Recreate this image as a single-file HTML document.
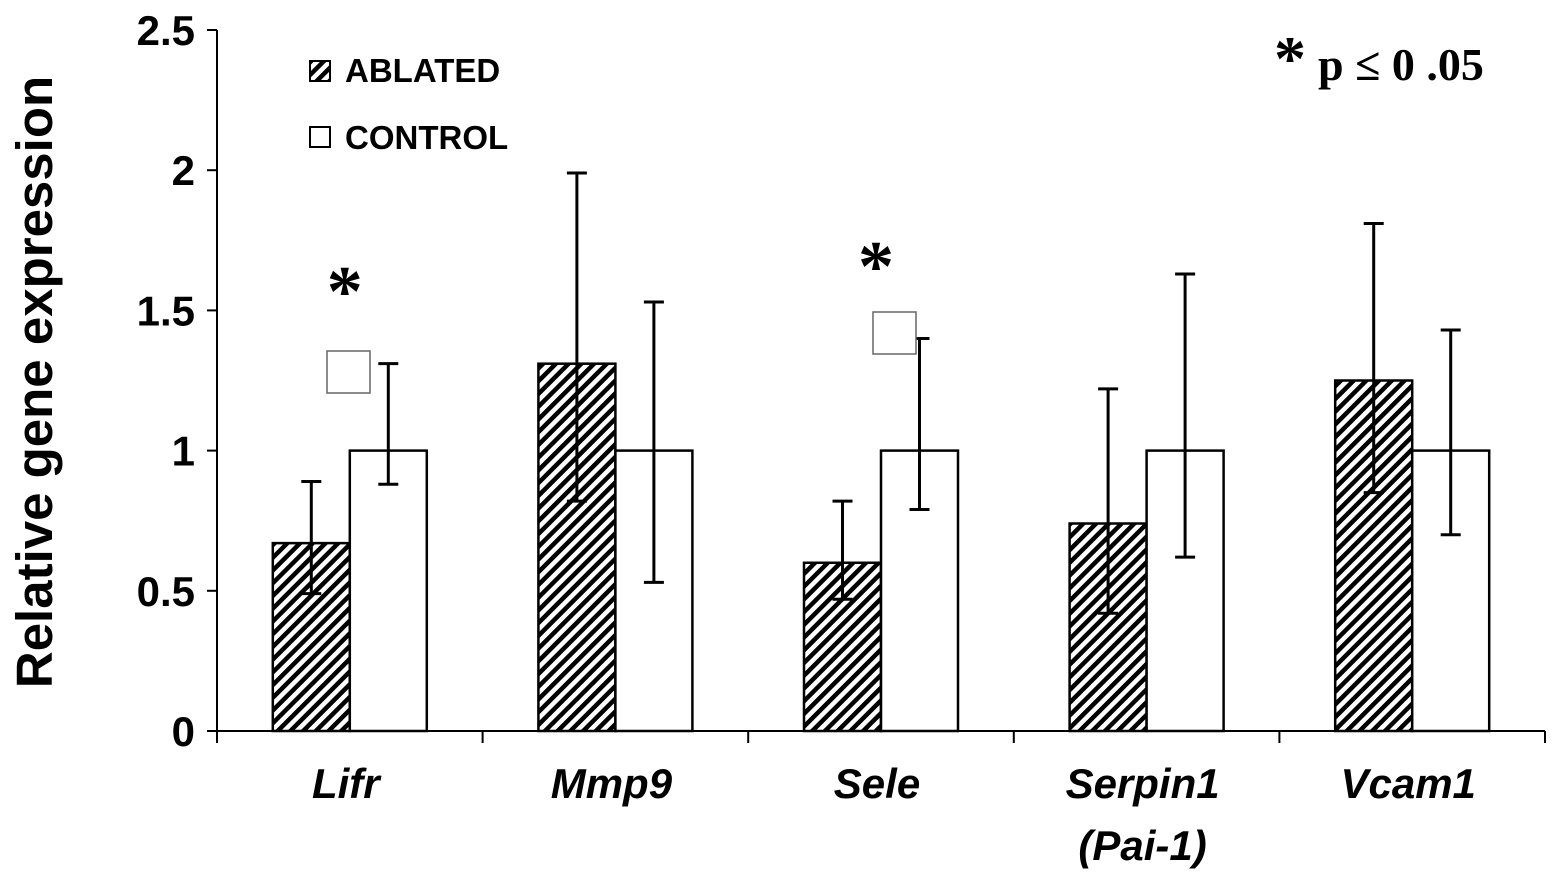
<!DOCTYPE html>
<html><head><meta charset="utf-8"><style>
body{margin:0;background:#fff}
svg{display:block}
text{font-family:"Liberation Sans",Arial,sans-serif;font-weight:bold;fill:#000}
</style></head><body>
<svg id="chart" width="1559" height="883" viewBox="0 0 1559 883">
<defs>
<pattern id="hatch" patternUnits="userSpaceOnUse" width="9" height="9" patternTransform="rotate(45)">
<rect width="9" height="9" fill="#fff"/><rect width="4.5" height="9" fill="#000"/>
</pattern>
</defs>
<g id="axes"></g>
<g id="bars"></g>
<text transform="translate(52,382) rotate(-90)" text-anchor="middle" font-size="51">Relative gene expression</text>
<g>
<rect x="310" y="61" width="20" height="20" fill="url(#hatch)" stroke="#000" stroke-width="2"/>
<text x="345" y="82" font-size="33">ABLATED</text>
<rect x="310" y="127" width="20" height="20" fill="#fff" stroke="#000" stroke-width="2"/>
<text x="345" y="149" font-size="33">CONTROL</text>
</g>
<text x="1274" y="80" font-size="64" style="font-family:'Liberation Serif',serif">*<tspan dx="12" font-size="46">p ≤ 0 .05</tspan></text>
<rect x="327" y="351" width="43" height="42" fill="#fff" stroke="#666" stroke-width="1.5"/>
<rect x="873" y="312" width="43" height="42" fill="#fff" stroke="#666" stroke-width="1.5"/>
</svg>
<script>
const categories=["Lifr","Mmp9","Sele","Serpin1","Vcam1"];
const subLabels=["","","","(Pai-1)",""];
const ablated=[0.67,1.31,0.60,0.74,1.25];
const ablatedHi=[0.89,1.99,0.82,1.22,1.81];
const ablatedLo=[0.49,0.82,0.47,0.42,0.85];
const control=[1.0,1.0,1.0,1.0,1.0];
const controlHi=[1.31,1.53,1.40,1.63,1.43];
const controlLo=[0.88,0.53,0.79,0.62,0.70];
const significant=[true,false,true,false,false];
const yTicks=[0,0.5,1,1.5,2,2.5];
const yTickLabels=["0","0.5","1","1.5","2","2.5"];

const NS="http://www.w3.org/2000/svg";
const x0=217,x1=1545,y0=731,yTop=30,yMax=2.5;
const y=v=>y0-(v/yMax)*(y0-yTop);
const bandW=(x1-x0)/categories.length;
const xc=i=>x0+bandW*(i+0.5);
const bw=77;
function mk(tag,attrs,parent){const e=document.createElementNS(NS,tag);for(const k in attrs)e.setAttribute(k,attrs[k]);parent.appendChild(e);return e;}
const axes=document.getElementById('axes'),bars=document.getElementById('bars');
let a=mk('line',{x1:x0,y1:yTop,x2:x0,y2:y0+1,stroke:'#000','stroke-width':2},axes);


a=mk('line',{x1:x0,y1:y0,x2:x1,y2:y0,stroke:'#000','stroke-width':2},axes);


yTicks.forEach((t,i)=>{
 const l=mk('line',{x1:x0-10,y1:y(t),x2:x0,y2:y(t),stroke:'#000','stroke-width':2},axes);
 
 
 const tx=mk('text',{x:x0-22,y:y(t)+15,'text-anchor':'end','font-size':42},axes);
 tx.textContent=yTickLabels[i];
 
 
});
for(let i=0;i<=categories.length;i++){
 const l=mk('line',{x1:x0+bandW*i,y1:y0,x2:x0+bandW*i,y2:y0+12,stroke:'#000','stroke-width':2},axes);
 
 
}
function errbar(cx,hi,lo,name){
 const g=mk('g',{stroke:'#000','stroke-width':3},bars);
 
 
 mk('line',{x1:cx,y1:y(hi),x2:cx,y2:y(lo)},g);
 mk('line',{x1:cx-10,y1:y(hi),x2:cx+10,y2:y(hi)},g);
 mk('line',{x1:cx-10,y1:y(lo),x2:cx+10,y2:y(lo)},g);
}
categories.forEach((c,i)=>{
 const cx=xc(i);
 let r=mk('rect',{x:cx-bw,y:y(ablated[i]),width:bw,height:y0-y(ablated[i]),fill:'url(#hatch)',stroke:'#000','stroke-width':2.5},bars);
 
 
 r=mk('rect',{x:cx,y:y(control[i]),width:bw,height:y0-y(control[i]),fill:'#fff',stroke:'#000','stroke-width':2.5},bars);
 
 
 errbar(cx-bw/2,ablatedHi[i],ablatedLo[i],'error-bar-ablated-'+c.toLowerCase());
 errbar(cx+bw/2,controlHi[i],controlLo[i],'error-bar-control-'+c.toLowerCase());
 const t=mk('text',{x:cx-4,y:798,'text-anchor':'middle','font-size':42,'font-style':'italic'},bars);
 t.textContent=c;
 
 
 if(subLabels[i]){
  const s=mk('text',{x:cx-4,y:860,'text-anchor':'middle','font-size':42,'font-style':'italic'},bars);
  s.textContent=subLabels[i];
  
  
 }
 if(significant[i]){
  const s=mk('text',{x:cx-5,y:y(Math.max(ablatedHi[i],controlHi[i]))-48,'text-anchor':'middle','font-size':72,style:"font-family:'Liberation Serif',serif"},bars);
  s.textContent='*';
  
  
 }
});
</script>
</body></html>
